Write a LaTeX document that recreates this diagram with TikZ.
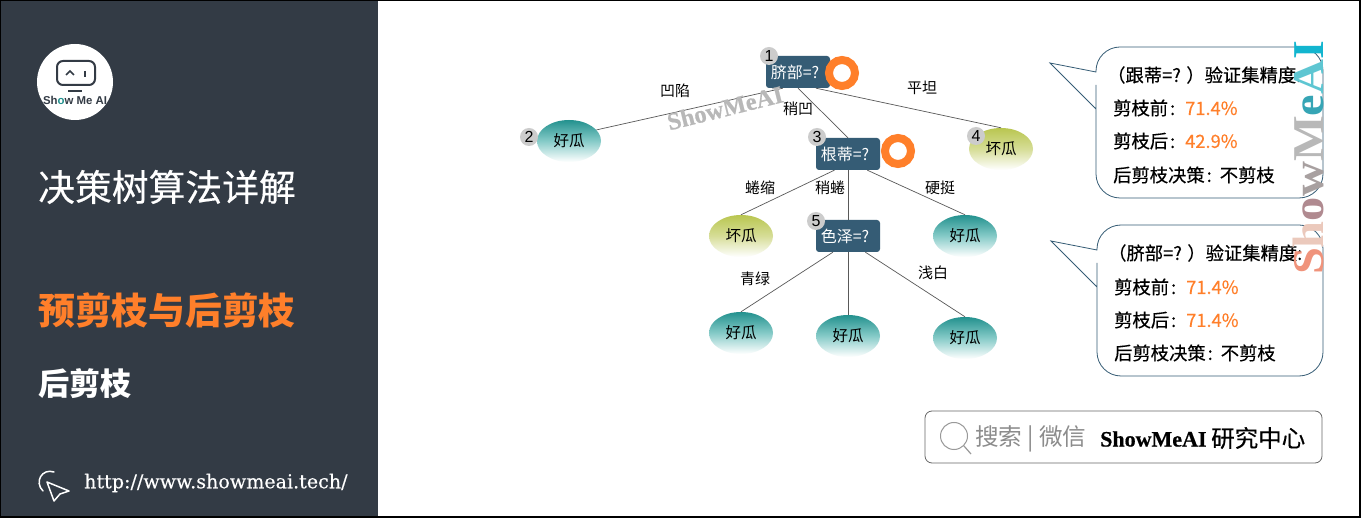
\documentclass[tikz,border=0pt]{standalone}
\usepackage{fontspec}
\setmainfont{Noto Sans CJK SC}
\newfontfamily\midfont[FakeBold=0.35]{Noto Sans CJK SC}
\newfontfamily\latinfont{Liberation Sans}
\newfontfamily\markfont[FakeBold=0.6]{Liberation Serif Bold}
\newfontfamily\sidefont[FakeStretch=1.1]{Liberation Serif Bold}
\newfontfamily\urlfont[FakeBold=0.3]{DejaVu Serif}
\usetikzlibrary{shapes.geometric,positioning}
\definecolor{panelDark}{HTML}{333B45}
\definecolor{smaOrange}{HTML}{FF7F2A}
\definecolor{boxBlue}{HTML}{355C75}
\definecolor{goodTop}{HTML}{23918E}
\definecolor{goodMid}{HTML}{86CBC8}
\definecolor{badTop}{HTML}{B9C650}
\definecolor{badMid}{HTML}{D6DD97}
\definecolor{markS}{HTML}{F0937B}
\definecolor{markH}{HTML}{EBC9BC}
\definecolor{markO}{HTML}{B08A90}
\definecolor{markW}{HTML}{A8A0A0}
\definecolor{markM}{HTML}{B8B8B8}
\definecolor{markE}{HTML}{36A5B5}
\definecolor{markA}{HTML}{5EC6D2}
\definecolor{markI}{HTML}{12B5CF}
\newcommand{\fsize}[1]{\fontsize{#1}{#1}\selectfont}
\tikzset{
  splitbox/.style={fill=boxBlue,rounded corners=3pt,minimum width=64pt,minimum height=32pt,
                   inner sep=0pt,text=white,font=\fsize{16},execute at end node=\hspace{6pt}},
  goodleaf/.style={ellipse,minimum width=64pt,minimum height=42pt,inner sep=0pt,
                   top color=goodTop,bottom color=white,middle color=goodMid,font=\fsize{15.5}},
  badleaf/.style={ellipse,minimum width=64pt,minimum height=42pt,inner sep=0pt,
                  top color=badTop,bottom color=white,middle color=badMid,font=\fsize{15.5}},
  badge/.style={circle,fill=black!20,minimum size=18pt,inner sep=0pt,font=\latinfont\fsize{16}},
  ringmark/.style={circle,draw=smaOrange,line width=8pt,minimum size=26pt,inner sep=0pt},
  edgelabel/.style={inner sep=0pt,font=\fsize{15}},
  treeline/.style={draw=black!65,line width=0.7pt},
  bubble/.style={draw=boxBlue,line width=0.8pt,fill=white},
  bubbletext/.style={anchor=west,inner sep=0pt,font=\midfont\fsize{18.3}},
  paneltext/.style={anchor=west,inner sep=0pt,text=white},
}
\begin{document}
\begin{tikzpicture}[x=1pt,y=-1pt]
  \useasboundingbox (0,0) rectangle (1361,518);
  \fill[white] (0,0) rectangle (1361,518);

  % left panel
  \fill[panelDark] (0,0) rectangle (378,518);
  \node[circle,fill=white,minimum size=76pt,inner sep=0pt] (logo) at (75,82) {};
  \draw[panelDark,line width=2pt,rounded corners=6pt] (57,61) rectangle (95,85);
  \draw[panelDark,line width=1.6pt] (66,75) -- (70,71) -- (74,75);
  \draw[panelDark,line width=1.6pt] (85,71) -- (85,77);
  \draw[panelDark,line width=1.6pt] (68,91) -- (82,91);
  \node[inner sep=0pt,text=panelDark,font=\latinfont\bfseries\fsize{11.4}] (logotext) at (75,100)
    {Sh{\color{goodTop}o}w Me AI};
  \node[paneltext,font=\midfont\fsize{36.8}] (title) at (38,187) {决策树算法详解};
  \node[paneltext,font=\bfseries\fsize{36.8},text=smaOrange] (chapter) at (38,311) {预剪枝与后剪枝};
  \node[paneltext,font=\bfseries\fsize{31.2}] (section) at (38,384) {后剪枝};
  \node[paneltext,font=\urlfont\fsize{19.1}] (url) at (84,483) {http://www.showmeai.tech/};
  \draw[white,line width=1.5pt,line join=round] (47,482) -- (69,491) -- (60,494) -- (54,501) -- cycle;
  \draw[white,line width=1.5pt,line cap=round] (43,491) .. controls (34,482) and (42,468) .. (54,472);

  % tree nodes
  \node[splitbox] (root) at (798,72) {脐部=?};
  \node[splitbox] (rootdi) at (848,154) {根蒂=?};
  \node[splitbox] (color) at (848,236) {色泽=?};
  \node[goodleaf] (leaftwo) at (569,141) {好瓜};
  \node[badleaf] (leaffour) at (1001,149) {坏瓜};
  \node[badleaf] (leafcurl) at (741,236) {坏瓜};
  \node[goodleaf] (leafhard) at (965,236) {好瓜};
  \node[goodleaf] (leafgreen) at (741,333) {好瓜};
  \node[goodleaf] (leafmid) at (848,336) {好瓜};
  \node[goodleaf] (leafwhite) at (965,338) {好瓜};
  \node[ringmark] (ringone) at (842,73) {};
  \node[ringmark] (ringtwo) at (898,151) {};

  \path[treeline] (root.-133) -- (leaftwo.22);
  \path[treeline] (root.south) -- (rootdi.north);
  \path[treeline] (root.-42) -- (leaffour.north);
  \path[treeline] (rootdi.-130) -- (leafcurl.north);
  \path[treeline] (rootdi.south) -- (color.north);
  \path[treeline] (rootdi.-40) -- (leafhard.north);
  \path[treeline] (color.-133) -- (leafgreen.north);
  \path[treeline] (color.south) -- (leafmid.north);
  \path[treeline] (color.-43) -- (leafwhite.north);

  \node[badge] (bone) at (769,56) {1};
  \node[badge] (btwo) at (529,137) {2};
  \node[badge] (bthree) at (817,137) {3};
  \node[badge] (bfour) at (976,136) {4};
  \node[badge] (bfive) at (816,221) {5};

  \node[edgelabel] (lone) at (675,91) {凹陷};
  \node[edgelabel] (ltwo) at (798,109) {稍凹};
  \node[edgelabel] (lthree) at (922,88) {平坦};
  \node[edgelabel] (lfour) at (760,188) {蜷缩};
  \node[edgelabel] (lfive) at (830,188) {稍蜷};
  \node[edgelabel] (lsix) at (940,188) {硬挺};
  \node[edgelabel] (lseven) at (755,279) {青绿};
  \node[edgelabel] (leight) at (933,273) {浅白};

  \node[inner sep=0pt,text=black!28,rotate=14,font=\markfont\fsize{24.5}] (markdiag) at (725,108) {ShowMeAI};

  % bubbles
  \draw[bubble,rounded corners=24pt] (1096,72) -- (1096,47) -- (1323,47) -- (1323,198) -- (1096,198)
    -- (1096,109) [sharp corners] -- (1096,109) -- (1050,63) -- (1096,72) -- cycle;
  \draw[bubble,rounded corners=24pt] (1097,250) -- (1097,225) -- (1323,225) -- (1323,376) -- (1097,376)
    -- (1097,287) [sharp corners] -- (1097,287) -- (1051,241) -- (1097,250) -- cycle;

  \node[bubbletext] (aone) at (1107,75) {（跟蒂=? ）验证集精度:};
  \node[bubbletext] (atwo) at (1113,108) {剪枝前\hspace{2pt}:\hspace{10pt}\textcolor{smaOrange}{71.4\%}};
  \node[bubbletext] (athree) at (1113,141) {剪枝后\hspace{2pt}:\hspace{10pt}\textcolor{smaOrange}{42.9\%}};
  \node[bubbletext] (afour) at (1113,175) {后剪枝决策\hspace{2pt}:\hspace{8pt}不剪枝};
  \node[bubbletext] (bbone) at (1108,253) {（脐部=? ）验证集精度:};
  \node[bubbletext] (bbtwo) at (1114,287) {剪枝前\hspace{2pt}:\hspace{10pt}\textcolor{smaOrange}{71.4\%}};
  \node[bubbletext] (bbthree) at (1114,320) {剪枝后\hspace{2pt}:\hspace{10pt}\textcolor{smaOrange}{71.4\%}};
  \node[bubbletext] (bbfour) at (1114,353) {后剪枝决策\hspace{2pt}:\hspace{8pt}不剪枝};

  % side watermark
  \node[inner sep=0pt,rotate=90,font=\sidefont\fsize{44}] (markside) at (1308,158)
    {\textcolor{markS}{S}\textcolor{markH}{h}\textcolor{markO}{o}\textcolor{markW}{w}\textcolor{markM}{M}\textcolor{markE}{e}\textcolor{markA}{A}\textcolor{markI}{I}};

  % search box
  \node[draw=black!60,line width=0.8pt,rounded corners=7pt,minimum width=397pt,minimum height=52pt,inner sep=0pt] (searchbox) at (1123.5,437) {};
  \node[circle,draw=black!40,line width=1pt,minimum size=27pt,inner sep=0pt] (lens) at (954,436) {};
  \coordinate (lensend) at (971,454);
  \draw[black!40,line width=1.2pt] (lens.-45) -- (lensend);
  \node[anchor=west,inner sep=0pt,text=black!45,font=\fsize{23.6}] (searchword) at (975,439) {搜索 | 微信};
  \node[anchor=west,inner sep=0pt,font=\markfont\fsize{22}] (brand) at (1100,439) {ShowMeAI};
  \node[anchor=west,inner sep=0pt,font=\midfont\fsize{23.5}] (brandcn) at (1211,438) {研究中心};

  % frame
  \draw[black,line width=1.5pt] (0.5,0.5) rectangle (1360,517);
\end{tikzpicture}
\end{document}
